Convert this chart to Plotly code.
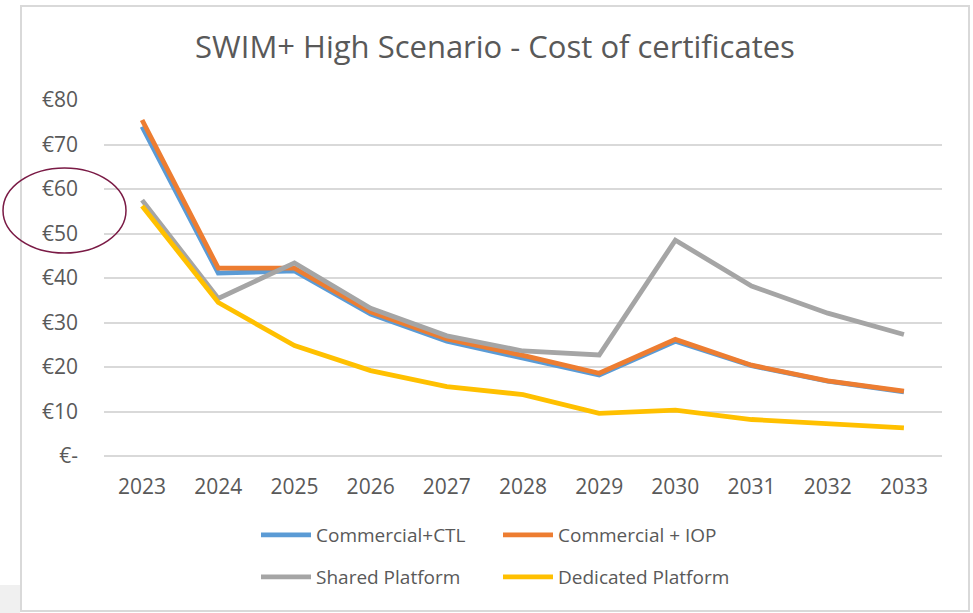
import plotly.graph_objects as go

years = ["2023", "2024", "2025", "2026", "2027", "2028", "2029", "2030", "2031", "2032", "2033"]
commercial_ctl = [74.0, 41.1, 41.6, 31.9, 25.8, 22.0, 18.2, 25.8, 20.3, 16.8, 14.4]
commercial_iop = [75.5, 42.2, 42.2, 32.4, 26.3, 22.6, 18.6, 26.2, 20.4, 16.9, 14.6]
shared_platform = [57.5, 35.4, 43.4, 33.2, 27.0, 23.6, 22.7, 48.5, 38.2, 32.1, 27.3]
dedicated_platform = [56.2, 34.5, 24.8, 19.2, 15.6, 13.8, 9.6, 10.3, 8.2, 7.2, 6.3]

y_tickvals = [0, 10, 20, 30, 40, 50, 60, 70, 80]
y_ticktext = ["€-", "€10", "€20", "€30", "€40", "€50", "€60", "€70", "€80"]

series = [
    ("Commercial+CTL", commercial_ctl, "#5B9BD5", "legend"),
    ("Commercial + IOP", commercial_iop, "#ED7D31", "legend"),
    ("Shared Platform", shared_platform, "#A5A5A5", "legend2"),
    ("Dedicated Platform", dedicated_platform, "#FFC000", "legend2"),
]

FONT = "Open Sans"
TXT = "#595959"

fig = go.Figure()
for name, vals, color, leg in series:
    fig.add_trace(go.Scatter(
        x=years, y=vals, name=name, mode="lines",
        line=dict(color=color, width=4.8),
        legend=leg,
    ))

W, H = 973, 613
L, R, T, B = 104, 31, 100, 157
pw, ph = W - L - R, H - T - B

def px(xp):
    return (xp - L) / pw

def py(yp):
    return (H - B - yp) / ph

leg_common = dict(
    orientation="h", xanchor="left", yanchor="middle",
    entrywidth=177, entrywidthmode="pixels", itemwidth=50,
    font=dict(size=19, color=TXT), bgcolor="rgba(0,0,0,0)",
)

fig.update_layout(
    width=W, height=H,
    margin=dict(l=L, r=R, t=T, b=B),
    paper_bgcolor="white", plot_bgcolor="white",
    font=dict(family=FONT, color=TXT, size=20),
    title=dict(
        text="SWIM+ High Scenario - Cost of certificates",
        font=dict(family=FONT, size=31, color=TXT),
        xref="paper", x=px(495), xanchor="center",
        yref="container", y=1 - 47 / H, yanchor="middle",
    ),
    xaxis=dict(
        type="category", range=[-0.5, 10.5],
        showgrid=False, zeroline=False, showline=False,
        ticks="", tickfont=dict(size=21, color=TXT), ticklabelstandoff=16,
    ),
    yaxis=dict(
        range=[0, 80], tickvals=y_tickvals, ticktext=y_ticktext,
        showgrid=True, gridcolor="#D9D9D9", gridwidth=1.5,
        zeroline=True, zerolinecolor="#D9D9D9", zerolinewidth=1.5,
        showline=False, ticks="", tickfont=dict(size=21, color=TXT),
        ticklabelstandoff=25,
    ),
    legend=dict(x=px(256), y=py(535), **leg_common),
    legend2=dict(x=px(256), y=py(577), **leg_common),
    shapes=[
        dict(type="rect", xref="paper", yref="paper",
             x0=px(0), x1=px(20), y0=py(613), y1=py(585),
             fillcolor="#F0F0F0", line=dict(width=0), layer="below"),
        dict(type="rect", xref="paper", yref="paper",
             x0=px(21), x1=px(969), y0=py(611), y1=py(6),
             line=dict(color="#D9D9D9", width=2), layer="below"),
        dict(type="circle", xref="paper", yref="paper",
             x0=px(3), x1=px(126), y0=py(253), y1=py(168),
             line=dict(color="#7A1A45", width=1.5)),
    ],
)

fig.write_html(
    "out.html",
    config={"displayModeBar": False},
    post_script="document.body.style.margin='0';document.body.style.overflow='hidden';",
)
